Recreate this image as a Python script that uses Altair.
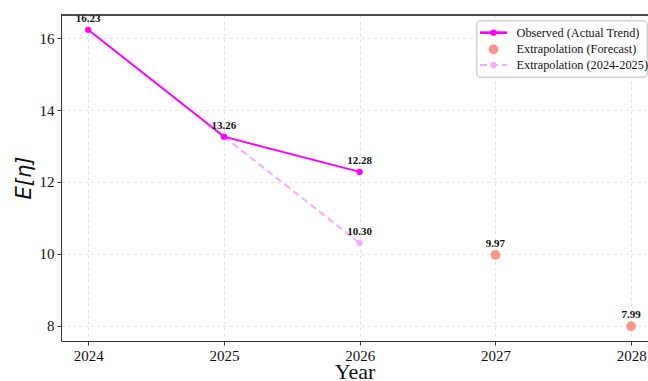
import altair as alt
import pandas as pd

# Observed yearly values
obs_years = [2024, 2025, 2026]
obs_values = [16.23, 13.26, 12.28]

# Straight-line extrapolation from the 2024-2025 slope
ext_years = [2025, 2026]
ext_values = [13.26, 10.30]

# Forecast points
fc_years = [2027, 2028]
fc_values = [9.97, 7.99]

legend_labels = ["Observed (Actual Trend)", "Extrapolation (Forecast)", "Extrapolation (2024-2025)"]

MAGENTA = "#ff00ff"
SALMON = "#f8978c"
PINK = "#f8aaf8"
SERIF = "'Liberation Serif', 'Times New Roman', Times, serif"

W, H = 587, 326
X_DOM = [2023.8, 2028.124]
Y_DOM = [7.578, 16.642]

obs = pd.DataFrame({"year": obs_years, "value": obs_values})
ext = pd.DataFrame({"year": ext_years, "value": ext_values})
fc = pd.DataFrame({"year": fc_years, "value": fc_values})

x_enc = alt.X(
    "year:Q",
    scale=alt.Scale(domain=X_DOM, nice=False, zero=False),
    axis=alt.Axis(
        values=[2024, 2025, 2026, 2027, 2028], format="d", title="Year",
        labelFont=SERIF, labelFontSize=15, labelColor="#111", labelPadding=3,
        titleFont=SERIF, titleFontSize=22, titleFontWeight="normal", titleColor="#111",
        titleY=37, titleBaseline="alphabetic",
        tickSize=4, tickColor="#333", domainColor="#333",
        grid=True, gridDash=[3, 3], gridColor="#d8d8d8", gridWidth=0.8,
    ),
)
y_enc = alt.Y(
    "value:Q",
    scale=alt.Scale(domain=Y_DOM, nice=False, zero=False),
    axis=alt.Axis(
        values=[8, 10, 12, 14, 16], title="E[η]",
        labelFont=SERIF, labelFontSize=15, labelColor="#111", labelPadding=3,
        titleFont="DejaVu Sans", titleFontStyle="italic", titleFontSize=21,
        titleFontWeight="normal", titleColor="#111",
        titleAngle=270, titleX=-31, titleY=162.5, titleAlign="center", titleBaseline="alphabetic",
        tickSize=4, tickColor="#333", domainColor="#333",
        grid=True, gridDash=[3, 3], gridColor="#d8d8d8", gridWidth=0.8,
    ),
)

ext_line = alt.Chart(ext).mark_line(color=PINK, strokeWidth=2, strokeDash=[7, 4]).encode(x=x_enc, y=y_enc)
ext_pts = alt.Chart(ext).mark_circle(color=PINK, size=40, opacity=1).encode(x="year:Q", y="value:Q")
obs_line = alt.Chart(obs).mark_line(color=MAGENTA, strokeWidth=2).encode(x="year:Q", y="value:Q")
obs_pts = alt.Chart(obs).mark_circle(color=MAGENTA, size=40, opacity=1).encode(x="year:Q", y="value:Q")
fc_pts = alt.Chart(fc).mark_circle(color=SALMON, size=95, opacity=1).encode(x="year:Q", y="value:Q")

labels_df = pd.concat([obs, ext.iloc[1:], fc], ignore_index=True)
labels = alt.Chart(labels_df).mark_text(
    font=SERIF, fontSize=11, fontWeight="bold", color="#111", dy=-11, baseline="middle"
).encode(x="year:Q", y="value:Q", text=alt.Text("value:Q", format=".2f"))

# Top frame line (no right frame line in this layout)
top_rule = alt.Chart(obs).mark_rule(color="#333", strokeWidth=1).encode(
    x=alt.value(0), x2=alt.value(W), y=alt.value(0)
)

# Legend box and entries
leg_box = alt.Chart(obs).mark_rect(
    fill="white", stroke="#cccccc", strokeWidth=1, cornerRadius=3, opacity=0.9
).encode(x=alt.value(416), x2=alt.value(586), y=alt.value(6), y2=alt.value(62))
leg_rows = [17.7, 34.3, 50.0]
leg_text = alt.Chart(pd.DataFrame({"label": legend_labels, "row": leg_rows})).mark_text(
    font=SERIF, fontSize=12.3, color="#111", align="left", baseline="middle"
).encode(x=alt.value(455.5), y=alt.Y("row:Q", scale=None), text="label:N")
leg_obs_line = alt.Chart(obs).mark_rule(color=MAGENTA, strokeWidth=2).encode(
    x=alt.value(419), x2=alt.value(446), y=alt.value(leg_rows[0])
)
leg_obs_pt = alt.Chart(obs.iloc[:1]).mark_circle(color=MAGENTA, size=40, opacity=1).encode(
    x=alt.value(432.5), y=alt.value(leg_rows[0])
)
leg_fc_pt = alt.Chart(obs.iloc[:1]).mark_circle(color=SALMON, size=95, opacity=1).encode(
    x=alt.value(432.5), y=alt.value(leg_rows[1])
)
leg_ext_line = alt.Chart(obs).mark_rule(color=PINK, strokeWidth=2, strokeDash=[7, 4]).encode(
    x=alt.value(419), x2=alt.value(446), y=alt.value(leg_rows[2])
)
leg_ext_pt = alt.Chart(obs.iloc[:1]).mark_circle(color=PINK, size=40, opacity=1).encode(
    x=alt.value(432.5), y=alt.value(leg_rows[2])
)

chart = alt.layer(
    ext_line, ext_pts, obs_line, obs_pts, fc_pts, labels, top_rule,
    leg_box, leg_obs_line, leg_obs_pt, leg_fc_pt, leg_ext_line, leg_ext_pt, leg_text,
).properties(
    width=W, height=H,
    autosize=alt.AutoSizeParams(type="none"),
    padding={"left": 61, "top": 15, "right": 0, "bottom": 40},
    background="white",
).configure_view(stroke=None)

chart.save("out.html", embed_options={"renderer": "svg", "actions": False})
